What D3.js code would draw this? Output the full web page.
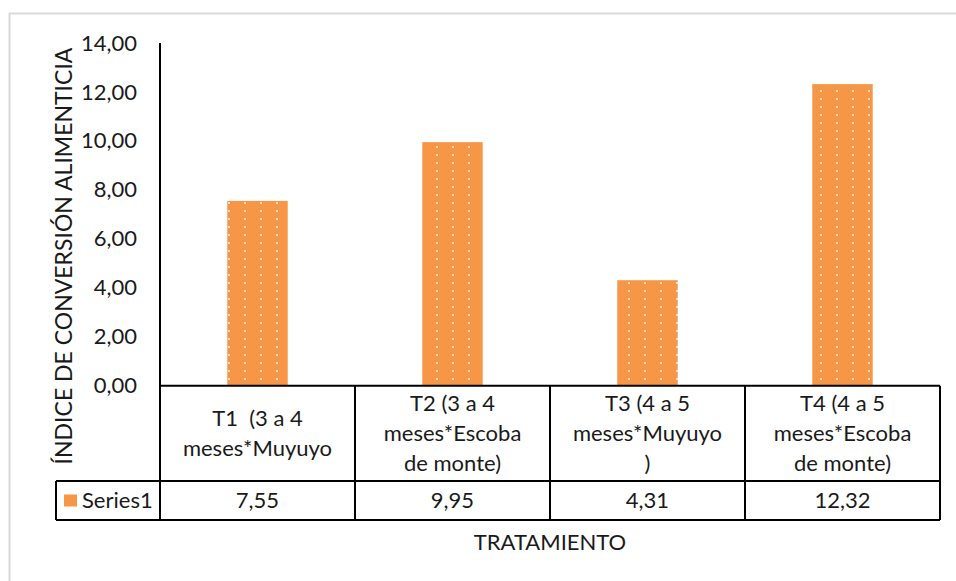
<!DOCTYPE html>
<html>
<head>
<meta charset="utf-8">
<script src="https://cdn.jsdelivr.net/npm/d3@7"></script>
<style>
  html, body { margin: 0; padding: 0; background: #fff; }
  svg { display: block; }
  text { font-family: Lato, "Open Sans", sans-serif; fill: #1a1a1a; white-space: pre; }
</style>
</head>
<body>
<svg id="chart" width="956" height="581"></svg>
<script>
// Treatments (each label split into its table lines) and their feed conversion index
const categories = ["T1", "T2", "T3", "T4"];
const categoryLines = [
  ["T1  (3 a 4", "meses*Muyuyo"],
  ["T2 (3 a 4", "meses*Escoba", "de monte)"],
  ["T3 (4 a 5", "meses*Muyuyo", ")"],
  ["T4 (4 a 5", "meses*Escoba", "de monte)"]
];
const values = [7.55, 9.95, 4.31, 12.32];
const yTicks = [0, 2, 4, 6, 8, 10, 12, 14];
const seriesName = "Series1";
const yTitle = "ÍNDICE DE CONVERSIÓN ALIMENTICIA";
const xTitle = "TRATAMIENTO";

const barColor = "#F79646";
const fontSize = 22;

const svg = d3.select("#chart");

// Comma decimal formatting
const locale = d3.formatLocale({ decimal: ",", thousands: ".", grouping: [3], currency: ["", ""] });
const fmt = locale.format(".2f");

// Outer chart frame
svg.append("rect")
  .attr("x", 9.5).attr("y", 13.5)
  .attr("width", 960).attr("height", 600)
  .attr("fill", "#fff")
  .attr("stroke", "#d9d9d9").attr("stroke-width", 2);

const plotLeft = 160, plotRight = 940, plotTop = 43, plotBottom = 385.7;
const catRowBottom = 481, valRowBottom = 520, tableLeft = 56;

const x = d3.scaleBand().domain(categories).range([plotLeft, plotRight]).paddingInner(0).paddingOuter(0);
const y = d3.scaleLinear().domain([0, 14]).range([plotBottom, plotTop]);

// Dotted fill for the bars
const defs = svg.append("defs");
const pat = defs.append("pattern")
  .attr("id", "dots")
  .attr("patternUnits", "userSpaceOnUse")
  .attr("width", 16).attr("height", 8)
  .attr("x", 4).attr("y", 2);
pat.append("rect").attr("width", 16).attr("height", 8).attr("fill", barColor);
pat.append("rect").attr("x", 0).attr("y", 0).attr("width", 2).attr("height", 2).attr("fill", "#fde6d2");

// Bars
const barW = x.bandwidth() * 0.31;
svg.append("g").selectAll("rect")
  .data(values)
  .join("rect")
  .attr("x", (d, i) => x(categories[i]) + (x.bandwidth() - barW) / 2)
  .attr("y", d => y(d))
  .attr("width", barW)
  .attr("height", d => y(0) - y(d))
  .attr("fill", "url(#dots)");

// Y axis
const yAxis = d3.axisLeft(y).tickValues(yTicks).tickFormat(fmt).tickSize(0).tickPadding(23);
const gy = svg.append("g").attr("transform", `translate(${plotLeft},0)`).call(yAxis);
gy.select(".domain").remove();
gy.selectAll("text").style("font-size", fontSize + "px").attr("fill", "#1a1a1a")
  .style("font-family", "Lato, sans-serif");

svg.append("line")
  .attr("x1", plotLeft).attr("x2", plotLeft)
  .attr("y1", plotTop).attr("y2", valRowBottom)
  .attr("stroke", "#000").attr("stroke-width", 2);

// Data table grid
const grid = svg.append("g").attr("stroke", "#000").attr("stroke-width", 2);
grid.append("line").attr("x1", plotLeft).attr("x2", plotRight).attr("y1", plotBottom).attr("y2", plotBottom);
grid.append("line").attr("x1", tableLeft).attr("x2", plotRight).attr("y1", catRowBottom).attr("y2", catRowBottom);
grid.append("line").attr("x1", tableLeft).attr("x2", plotRight).attr("y1", valRowBottom).attr("y2", valRowBottom);
grid.append("line").attr("x1", tableLeft).attr("x2", tableLeft).attr("y1", catRowBottom).attr("y2", valRowBottom);
grid.selectAll("line.col")
  .data(categories)
  .join("line")
  .attr("class", "col")
  .attr("x1", d => x(d) + x.bandwidth()).attr("x2", d => x(d) + x.bandwidth())
  .attr("y1", plotBottom).attr("y2", valRowBottom);

// Category labels inside the table
const lineH = 30;
const catMid = (plotBottom + catRowBottom) / 2;
categories.forEach((c, i) => {
  const lines = categoryLines[i];
  const t = svg.append("text")
    .attr("text-anchor", "middle")
    .style("font-size", fontSize + "px");
  lines.forEach((ln, j) => {
    t.append("tspan")
      .attr("x", x(c) + x.bandwidth() / 2)
      .attr("y", catMid + (j - (lines.length - 1) / 2) * lineH)
      .attr("dy", "0.35em")
      .text(ln);
  });
});

// Value row
const valMid = (catRowBottom + valRowBottom) / 2;
svg.append("g").selectAll("text")
  .data(values)
  .join("text")
  .attr("x", (d, i) => x(categories[i]) + x.bandwidth() / 2)
  .attr("y", valMid)
  .attr("dy", "0.35em")
  .attr("text-anchor", "middle")
  .style("font-size", fontSize + "px")
  .text(d => fmt(d));

// Legend key in the value row
svg.append("rect")
  .attr("x", 64).attr("y", valMid - 6)
  .attr("width", 13).attr("height", 12)
  .attr("fill", barColor);
svg.append("text")
  .attr("x", 82).attr("y", valMid).attr("dy", "0.35em")
  .style("font-size", fontSize + "px")
  .text(seriesName);

// Axis titles
svg.append("text")
  .attr("transform", `translate(72, 256) rotate(-90)`)
  .attr("text-anchor", "middle")
  .style("font-size", "23px")
  .text(yTitle);

svg.append("text")
  .attr("x", (plotLeft + plotRight) / 2)
  .attr("y", 550)
  .attr("text-anchor", "middle")
  .style("font-size", fontSize + "px")
  .text(xTitle);
</script>
</body>
</html>
